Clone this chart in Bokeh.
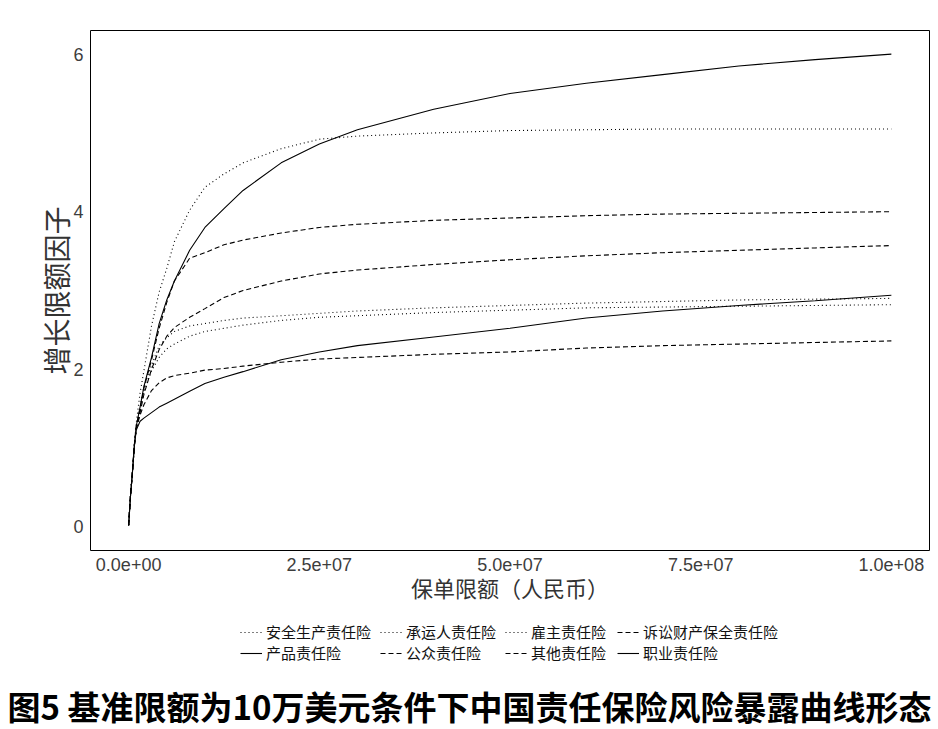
from bokeh.plotting import figure
from bokeh.layouts import column
from bokeh.models import Legend, LegendItem, FixedTicker, Title, Range1d
from bokeh.embed import file_html
from bokeh.resources import INLINE

# ---- data ----
limits = [0, 250000, 500000, 750000, 1000000, 1500000, 2000000, 3000000, 4000000,
          5000000, 6000000, 8000000, 10000000, 12500000, 15000000, 20000000,
          25000000, 30000000, 40000000, 50000000, 60000000, 70000000, 80000000,
          90000000, 100000000]

anquan = [0.02, 0.42, 0.72, 1.06, 1.32, 1.70, 1.98, 2.55, 2.98, 3.28, 3.62, 4.02, 4.31,
          4.48, 4.62, 4.80, 4.92, 4.96, 5.00, 5.03, 5.04, 5.05, 5.05, 5.05, 5.05]
chengyun = [0.02, 0.40, 0.69, 1.03, 1.25, 1.52, 1.78, 2.05, 2.30, 2.40, 2.48, 2.55, 2.58,
            2.62, 2.65, 2.68, 2.71, 2.74, 2.78, 2.81, 2.84, 2.86, 2.88, 2.89, 2.90]
guzhu = [0.02, 0.40, 0.69, 1.03, 1.25, 1.48, 1.72, 1.98, 2.15, 2.26, 2.32, 2.42, 2.48,
         2.52, 2.56, 2.62, 2.66, 2.68, 2.72, 2.75, 2.78, 2.79, 2.80, 2.81, 2.82]
susong = [0.02, 0.40, 0.70, 1.04, 1.27, 1.50, 1.76, 2.12, 2.52, 2.85, 3.12, 3.41, 3.48,
          3.58, 3.64, 3.73, 3.80, 3.84, 3.89, 3.92, 3.95, 3.97, 3.98, 3.99, 4.00]
chanpin = [0.02, 0.40, 0.69, 1.02, 1.23, 1.34, 1.38, 1.45, 1.52, 1.57, 1.62, 1.72, 1.82,
           1.90, 1.97, 2.12, 2.22, 2.30, 2.41, 2.52, 2.65, 2.74, 2.81, 2.87, 2.94]
gongzhong = [0.02, 0.40, 0.69, 1.03, 1.25, 1.45, 1.68, 2.00, 2.25, 2.42, 2.53, 2.66, 2.77,
             2.91, 3.00, 3.12, 3.21, 3.26, 3.33, 3.39, 3.44, 3.48, 3.51, 3.54, 3.57]
qita = [0.02, 0.40, 0.69, 1.03, 1.25, 1.42, 1.55, 1.73, 1.83, 1.89, 1.92, 1.95, 1.99,
        2.01, 2.04, 2.09, 2.13, 2.15, 2.19, 2.22, 2.27, 2.30, 2.32, 2.34, 2.36]
zhiye = [0.02, 0.40, 0.70, 1.04, 1.28, 1.52, 1.78, 2.15, 2.58, 2.88, 3.12, 3.51, 3.80,
         4.04, 4.27, 4.62, 4.86, 5.04, 5.30, 5.50, 5.63, 5.74, 5.85, 5.93, 6.00]

series_names = ["安全生产责任险", "承运人责任险", "雇主责任险", "诉讼财产保全责任险",
                "产品责任险", "公众责任险", "其他责任险", "职业责任险"]
series_values = [anquan, chengyun, guzhu, susong, chanpin, gongzhong, qita, zhiye]
series_dash = ["1 3", "1 3", "1 3", "5 3", "solid", "5 3", "5 3", "solid"]

x_ticks = [0, 25000000, 50000000, 75000000, 100000000]
x_tick_labels = ["0.0e+00", "2.5e+07", "5.0e+07", "7.5e+07", "1.0e+08"]
y_ticks = [0, 2, 4, 6]

x_title = "保单限额（人民币）"
y_title = "增长限额因子"
chart_title = "图5 基准限额为10万美元条件下中国责任保险风险暴露曲线形态"

CJK = "Noto Sans CJK SC"

# ---------------- main chart ----------------
p = figure(width=938, height=610, output_backend="svg", toolbar_location=None,
           x_range=Range1d(-5e6, 1.05e8), y_range=Range1d(-0.3, 6.3),
           min_border_left=90, min_border_right=9, min_border_top=30, min_border_bottom=60,
           background_fill_color="white", border_fill_color="white")

p.outline_line_color = "black"
p.outline_line_width = 1
p.xgrid.visible = False
p.ygrid.visible = False

for ax in (p.xaxis, p.yaxis):
    ax.axis_line_color = None
    ax.major_tick_out = 0
    ax.major_tick_in = 0
    ax.minor_tick_out = 0
    ax.minor_tick_in = 0
    ax.major_label_text_font = "Liberation Sans"
    ax.major_label_text_font_size = "18px"
    ax.major_label_text_color = "#3d3d3d"
    ax.major_label_standoff = 7
    ax.axis_label_text_font = CJK
    ax.axis_label_text_font_style = "normal"
    ax.axis_label_text_color = "#333333"

p.xaxis.ticker = FixedTicker(ticks=x_ticks)
p.xaxis.major_label_overrides = dict(zip(x_ticks, x_tick_labels))
p.yaxis.ticker = FixedTicker(ticks=y_ticks)
p.xaxis.axis_label = x_title
p.xaxis.axis_label_text_font_size = "22px"
p.xaxis.axis_label_standoff = -3
p.yaxis.axis_label = y_title
p.yaxis.axis_label_text_font_size = "28px"
p.yaxis.axis_label_standoff = -6

for vals, dash in zip(series_values, series_dash):
    p.line(limits, vals, line_color="black", line_width=1.1, line_dash=dash)

# ---------------- legend + caption strip ----------------
q = figure(width=938, height=119, output_backend="svg", toolbar_location=None,
           x_range=Range1d(0, 1), y_range=Range1d(0, 1),
           x_axis_location=None, y_axis_location=None,
           min_border_left=90, min_border_right=9, min_border_top=0, min_border_bottom=0,
           background_fill_color="white", border_fill_color="white")
q.outline_line_color = None
q.xgrid.visible = False
q.ygrid.visible = False

# legend keys: same series, hidden in this strip (only their key glyphs are shown)
key_renderers = [q.line(limits, vals, line_color="black", line_width=1.1, line_dash=d,
                        visible=False)
                 for vals, d in zip(series_values, series_dash)]

col_x = [150, 290, 415, 527]
for k in range(4):
    its = [LegendItem(label=series_names[k], renderers=[key_renderers[k]]),
           LegendItem(label=series_names[k + 4], renderers=[key_renderers[k + 4]])]
    lg = Legend(items=its, orientation="vertical", location=(col_x[k], 16),
                label_text_font=CJK, label_text_font_size="15px", label_text_color="#111111",
                glyph_width=22, glyph_height=20, label_height=20, label_standoff=4,
                spacing=-2, padding=0, margin=0, border_line_color=None,
                background_fill_alpha=0, inactive_fill_alpha=0)
    q.add_layout(lg, "center")

cap = Title(text=chart_title, align="left", offset=-83, standoff=0,
            text_font=CJK, text_font_size="33px", text_font_style="bold",
            text_color="black")
q.add_layout(cap, "below")

layout = column(p, q, spacing=0)
open("out.html", "w").write(file_html(layout, INLINE))
